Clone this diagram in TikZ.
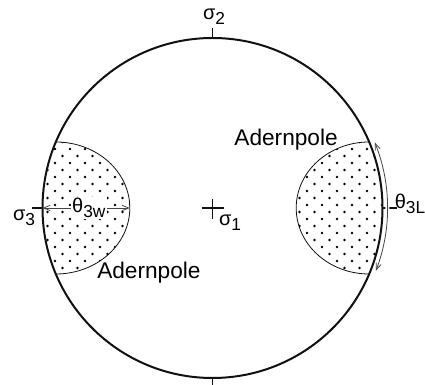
\documentclass[tikz,border=0pt]{standalone}
\usepackage{fontspec}
\setmainfont{Liberation Sans}
\usetikzlibrary{arrows.meta, calc}
\definecolor{inkline}{HTML}{111111}
\definecolor{dimgray}{HTML}{444444}
\newcommand{\lowsub}[1]{\raisebox{-0.45ex}{\fontsize{13}{13}\selectfont #1}}
\tikzset{
  primitive/.style={draw=inkline, line width=1.5pt},
  capline/.style={draw=inkline, line width=0.6pt},
  axistick/.style={draw=inkline, line width=0.9pt},
  dimarrow/.style={draw=dimgray, line width=0.6pt,
    {Straight Barb[length=5pt,width=4pt]}-{Straight Barb[length=5pt,width=4pt]}},
  lbl/.style={font=\fontsize{15}{18}\selectfont, inner sep=1pt},
  polelbl/.style={font=\fontsize{17}{20}\selectfont, inner sep=0pt},
}

\begin{document}
\begin{tikzpicture}[x=0.75pt, y=0.75pt]
  \useasboundingbox (0,0) rectangle (425,385);
  \coordinate (c) at (212.5,177);
  \coordinate (n) at ($(c)+(90:170)$);
  \coordinate (s) at ($(c)+(270:170)$);
  \coordinate (w) at ($(c)+(180:170)$);
  \coordinate (e) at ($(c)+(0:170)$);
  \coordinate (capw) at (129.8,177);

  % dotted caps round sigma3
  \begin{scope}
    \clip (55.8,243) arc[start angle=90, end angle=-90, x radius=74, y radius=66]
          arc[start angle=202.8, end angle=157.2, radius=170] -- cycle;
    \foreach \j in {0,...,20} \foreach \i in {0,...,6}
      \fill ({40+15*\i+7.5*mod(\j,2)},{110+7*\j}) circle (1.3);
  \end{scope}
  \begin{scope}
    \clip (369.2,243) arc[start angle=90, end angle=270, x radius=73, y radius=66]
          arc[start angle=-22.8, end angle=22.8, radius=170] -- cycle;
    \foreach \j in {0,...,20} \foreach \i in {0,...,6}
      \fill ({292+15*\i+7.5*mod(\j,2)},{110+7*\j}) circle (1.3);
  \end{scope}
  \draw[capline] (55.8,243) arc[start angle=90, end angle=-90, x radius=74, y radius=66];
  \draw[capline] (369.2,243) arc[start angle=90, end angle=270, x radius=73, y radius=66];

  % primitive circle and axes
  \draw[primitive] (c) circle (170);
  \draw[axistick] (n) -- ++(0,10);
  \draw[axistick] (s) -- ++(0,-10);
  \draw[axistick] (w) -- ++(-11,0);
  \draw[axistick] (e) -- ++(14,0);
  \draw[axistick] ($(c)+(-11,0)$) -- ++(22,0);
  \draw[axistick] ($(c)+(0,9)$) -- ++(0,-20);

  \node[lbl] (sig2) at (214,368) {σ\lowsub{2}};
  \node[lbl] (sig1) at (230,162) {σ\lowsub{1}};
  \node[lbl] (sig3) at (24,167) {σ\lowsub{3}};

  % angles
  \draw[dimarrow] (w) -- (capw) node[lbl, midway, fill=white, xshift=2pt] (thw) {θ\lowsub{3w}};
  \draw[dimarrow, preaction={draw=white, line width=3pt, -}]
    ($(c)+(22:175)$) coordinate (tl1) arc[start angle=22, end angle=-21, radius=175] coordinate (tl2);
  \node[lbl] (thl) at (410,181) {θ\lowsub{3L}};

  \node[polelbl, anchor=base east] (pole1) at (338,239) {Adernpole};
  \node[polelbl, anchor=base west] (pole2) at (97,106) {Adernpole};
\end{tikzpicture}
\end{document}
